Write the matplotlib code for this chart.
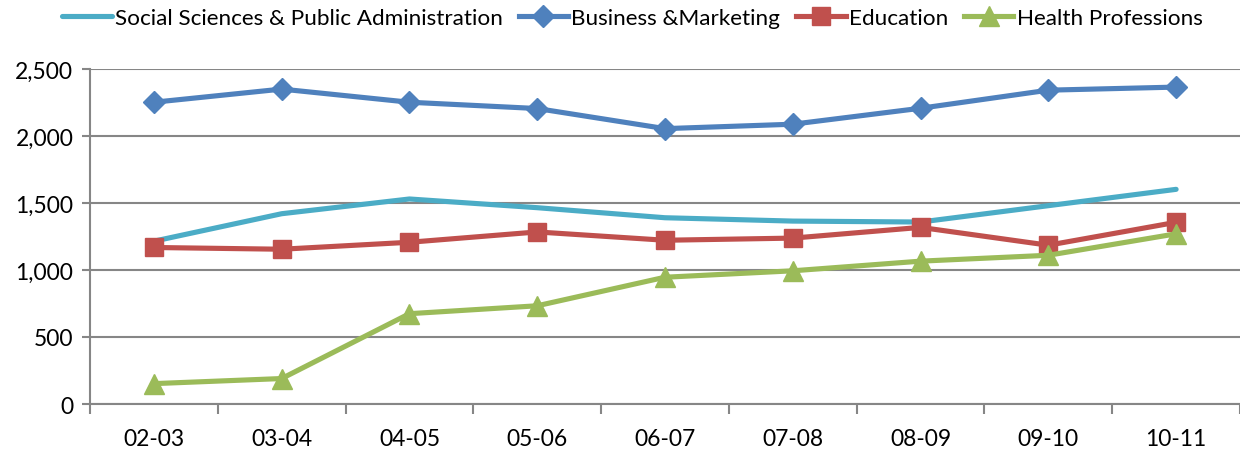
import matplotlib
matplotlib.use("Agg")
import matplotlib.pyplot as plt
from matplotlib.ticker import FuncFormatter, FixedLocator

categories = ["02-03", "03-04", "04-05", "05-06", "06-07", "07-08", "08-09", "09-10", "10-11"]
social = [1215, 1420, 1530, 1465, 1390, 1365, 1358, 1480, 1602]
business = [2252, 2350, 2252, 2205, 2055, 2088, 2207, 2342, 2365]
education = [1168, 1155, 1207, 1284, 1222, 1238, 1318, 1185, 1356]
health = [152, 190, 674, 733, 946, 994, 1066, 1110, 1270]
yticks = [0, 500, 1000, 1500, 2000, 2500]

plt.rcParams['font.family'] = ['Lato', 'DejaVu Sans']

fig = plt.figure(figsize=(12.4, 4.56), dpi=100)
ax = fig.add_axes([90/1240, 1-405/456, 1150/1240, 335/456])

x = list(range(len(categories)))
ax.plot(x, social, color="#4BACC6", lw=3.7, solid_capstyle='round', label="Social Sciences & Public Administration", zorder=3)
ax.plot(x, business, color="#4F81BD", lw=3.7, marker='D', ms=11, label="Business &Marketing", zorder=4)
ax.plot(x, education, color="#C0504D", lw=3.7, marker='s', ms=13, label="Education", zorder=4)
ax.plot(x, health, color="#9BBB59", lw=3.7, marker='^', ms=15, label="Health Professions", zorder=5)

ax.set_xlim(-0.5, len(categories) - 0.5)
ax.set_ylim(0, 2500)
ax.set_yticks(yticks)
ax.yaxis.set_major_formatter(FuncFormatter(lambda v, p: f"{int(v):,}"))
ax.set_xticks(x)
ax.set_xticklabels(categories)
ax.tick_params(axis='x', which='major', length=0, labelsize=16.5, pad=17)
ax.xaxis.set_minor_locator(FixedLocator([i - 0.5 for i in range(len(categories) + 1)]))
ax.tick_params(axis='x', which='minor', length=7, width=1.5, color="#868686", direction='out')
ax.tick_params(axis='y', length=6, width=1.5, color="#868686", labelsize=16.5, pad=6)
ax.grid(axis='y', color="#868686", lw=1.5)
ax.set_axisbelow(True)
for s in ['top', 'right']:
    ax.spines[s].set_visible(False)
for s in ['left', 'bottom']:
    ax.spines[s].set_color("#868686")
    ax.spines[s].set_linewidth(1.5)

leg = fig.legend(loc='upper center', bbox_to_anchor=(0.51, 1.025), ncol=4, frameon=False,
                 fontsize=16.2, handlelength=2.2, handletextpad=0.15, columnspacing=0.7)
fig.savefig("out.png", dpi=100)
